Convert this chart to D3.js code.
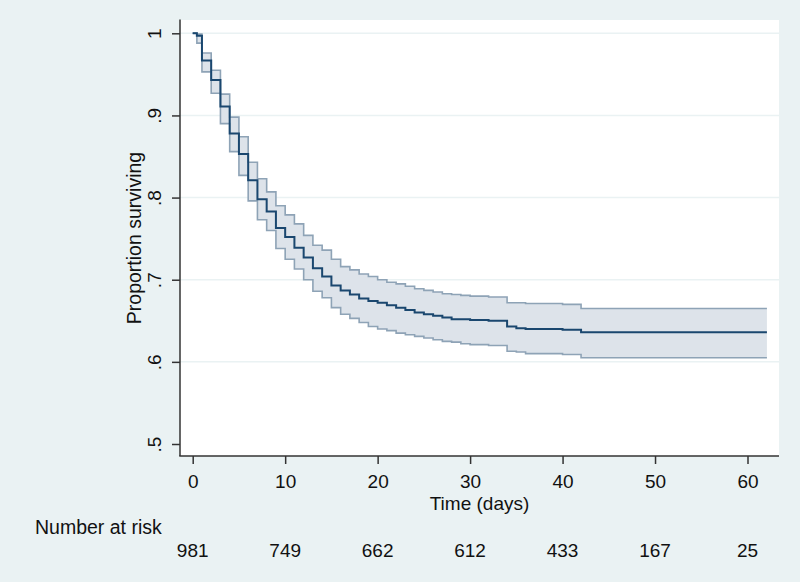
<!DOCTYPE html>
<html>
<head>
<meta charset="utf-8">
<script src="https://cdn.jsdelivr.net/npm/d3@7"></script>
<style>
  html, body { margin: 0; padding: 0; background: #eaf2f3; }
  svg { display: block; }
  text { font-family: "Liberation Sans", Arial, sans-serif; fill: #111; }
</style>
</head>
<body>
<div id="chart"></div>
<script>
// Kaplan-Meier estimate with 95% CI
const times    = [0, 0.45, 1, 2, 3, 4, 5, 6, 7, 8, 9, 10, 11, 12, 13, 14, 15, 16, 17, 18, 19, 20,
                  21, 22, 23, 24, 25, 26, 27, 28, 29, 30, 32, 34, 35, 36, 40, 42, 62.1];
const survival = [1, 0.997, 0.967, 0.943, 0.911, 0.878, 0.853, 0.821, 0.798, 0.783, 0.763, 0.752,
                  0.739, 0.727, 0.714, 0.704, 0.693, 0.687, 0.682, 0.677, 0.674, 0.672,
                  0.669, 0.666, 0.663, 0.660, 0.658, 0.656, 0.654, 0.652, 0.652, 0.651,
                  0.650, 0.643, 0.641, 0.640, 0.639, 0.636, 0.636];
const upperCI  = [1, 0.999, 0.976, 0.955, 0.926, 0.898, 0.874, 0.843, 0.823, 0.807, 0.790, 0.779,
                  0.768, 0.754, 0.742, 0.736, 0.725, 0.716, 0.712, 0.707, 0.704, 0.700,
                  0.697, 0.695, 0.692, 0.689, 0.687, 0.685, 0.683, 0.682, 0.681, 0.680,
                  0.679, 0.672, 0.672, 0.671, 0.670, 0.665, 0.665];
const lowerCI  = [1, 0.988, 0.953, 0.927, 0.890, 0.856, 0.827, 0.796, 0.773, 0.760, 0.738, 0.725,
                  0.713, 0.700, 0.686, 0.678, 0.666, 0.658, 0.653, 0.648, 0.643, 0.640,
                  0.638, 0.635, 0.633, 0.631, 0.629, 0.627, 0.625, 0.624, 0.622, 0.621,
                  0.620, 0.613, 0.612, 0.610, 0.609, 0.605, 0.605];

const xTicks = [0, 10, 20, 30, 40, 50, 60];
const yTicks = [0.5, 0.6, 0.7, 0.8, 0.9, 1];
const atRisk = [981, 749, 662, 612, 433, 167, 25];

const W = 800, H = 582;
const plot = { left: 180, right: 779, top: 20, bottom: 456 };

const svg = d3.select("#chart")
    .append("svg")
    .attr("width", W)
    .attr("height", H);

// scales
const x = d3.scaleLinear().domain([0, 60]).range([192.7, 747.5]);
const y = d3.scaleLinear().domain([0.5, 1]).range([444, 33.3]);

const data = times.map((t, i) => ({ t: t, s: survival[i], lo: lowerCI[i], hi: upperCI[i] }));

// plot region
svg.append("rect")
    .attr("x", plot.left)
    .attr("y", plot.top)
    .attr("width", plot.right - plot.left)
    .attr("height", plot.bottom - plot.top)
    .attr("fill", "#ffffff");

// gridlines (none at the bottom tick)
svg.append("g")
    .selectAll("line")
    .data(yTicks.filter(d => d > 0.5))
    .enter()
    .append("line")
    .attr("x1", plot.left)
    .attr("x2", plot.right)
    .attr("y1", d => y(d))
    .attr("y2", d => y(d))
    .attr("stroke", "#eaf2f3")
    .attr("stroke-width", 1.5);

// confidence band
const band = d3.area()
    .x(d => x(d.t))
    .y0(d => y(d.lo))
    .y1(d => y(d.hi))
    .curve(d3.curveStepAfter);

svg.append("path")
    .datum(data)
    .attr("d", band)
    .attr("fill", "#dde3ea");

const step = key => d3.line()
    .x(d => x(d.t))
    .y(d => y(d[key]))
    .curve(d3.curveStepAfter);

["hi", "lo"].forEach(k => {
    svg.append("path")
        .datum(data)
        .attr("d", step(k))
        .attr("fill", "none")
        .attr("stroke", "#8ea3b6")
        .attr("stroke-width", 1.6);
});

// survival estimate
svg.append("path")
    .datum(data)
    .attr("d", step("s"))
    .attr("fill", "none")
    .attr("stroke", "#1a476f")
    .attr("stroke-width", 2);

// Y axis
const yAxis = svg.append("g")
    .attr("transform", "translate(" + plot.left + ",0)")
    .call(d3.axisLeft(y)
        .tickValues(yTicks)
        .tickSize(8)
        .tickPadding(11)
        .tickFormat(d => d === 1 ? "1" : d3.format(".1f")(d).replace(/^0/, "")));
yAxis.select(".domain")
    .attr("d", "M0," + (plot.top - 0.5) + "V" + plot.bottom)
    .attr("stroke", "#333")
    .attr("stroke-width", 1.5);
yAxis.selectAll(".tick line").attr("stroke", "#333").attr("stroke-width", 1.5);
yAxis.selectAll(".tick text")
    .attr("x", null)
    .attr("dy", null)
    .attr("transform", "translate(-19,0) rotate(-90)")
    .attr("text-anchor", "middle")
    .style("font-size", "19px")
    .style("font-family", "'Liberation Sans', Arial, sans-serif")
    .attr("fill", "#111");

// X axis
const xAxis = svg.append("g")
    .attr("transform", "translate(0," + plot.bottom + ")")
    .call(d3.axisBottom(x)
        .tickValues(xTicks)
        .tickSize(8)
        .tickPadding(10));
xAxis.select(".domain")
    .attr("d", "M" + (plot.left - 0.75) + ",0H" + plot.right)
    .attr("stroke", "#333")
    .attr("stroke-width", 1.5);
xAxis.selectAll(".tick line").attr("stroke", "#333").attr("stroke-width", 1.5);
xAxis.selectAll(".tick text")
    .attr("dy", null)
    .attr("y", 32)
    .style("font-size", "19px")
    .style("font-family", "'Liberation Sans', Arial, sans-serif")
    .attr("fill", "#111");

// axis titles
svg.append("text")
    .attr("x", (plot.left + plot.right) / 2)
    .attr("y", 509.5)
    .attr("text-anchor", "middle")
    .style("font-size", "19px")
    .text("Time (days)");

svg.append("text")
    .attr("transform", "translate(141," + (plot.top + plot.bottom) / 2 + ") rotate(-90)")
    .attr("text-anchor", "middle")
    .style("font-size", "19.5px")
    .text("Proportion surviving");

// number at risk table
svg.append("text")
    .attr("x", 35)
    .attr("y", 534)
    .style("font-size", "19.5px")
    .text("Number at risk");

svg.append("g")
    .selectAll("text")
    .data(atRisk)
    .enter()
    .append("text")
    .attr("x", (d, i) => x(xTicks[i]))
    .attr("y", 557)
    .attr("text-anchor", "middle")
    .style("font-size", "19px")
    .text(d => d);
</script>
</body>
</html>
